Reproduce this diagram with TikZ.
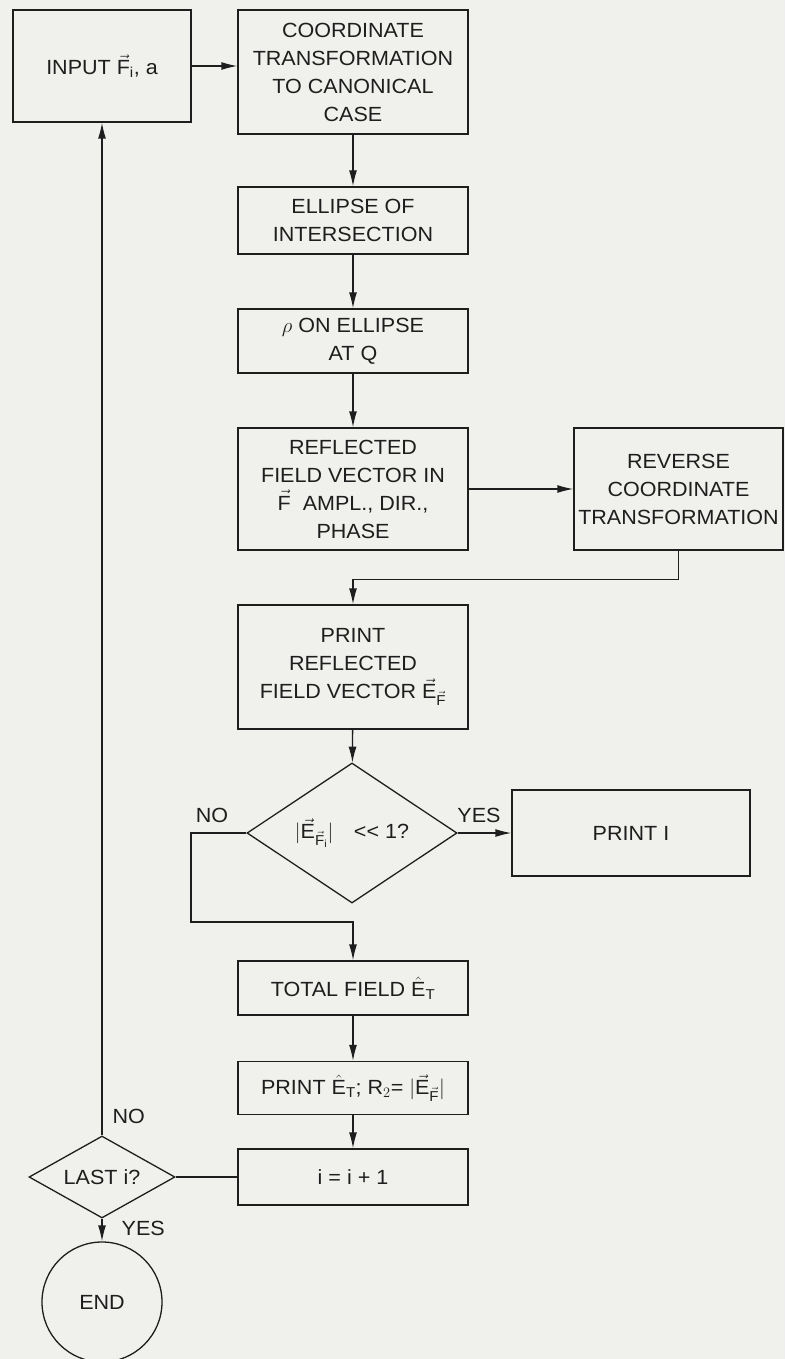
\documentclass[tikz,border=0pt]{standalone}
\usepackage{amsmath}
\usepackage{fontspec}
\setmainfont[FakeStretch=1.05]{Liberation Sans}
\usepackage{tikz}
\usetikzlibrary{shapes.geometric,arrows.meta}
\definecolor{paper}{RGB}{240,240,237}
\definecolor{ink}{RGB}{30,30,30}
\newcommand{\vv}[1]{\vec{\text{#1}}}
\newcommand{\hv}[1]{\hat{\text{#1}}}

\begin{document}
\begin{tikzpicture}[x=1pt, y=-1pt, line width=1.3pt, color=ink,
        box/.style={draw, rectangle, minimum width=230pt, align=center, inner sep=1pt, font=\fontsize{20.5}{28}\selectfont},
        decision/.style={draw, diamond, inner sep=0pt, font=\fontsize{20.5}{28}\selectfont},
        term/.style={draw, circle, minimum size=120pt, font=\fontsize{20.5}{28}\selectfont},
        lbl/.style={inner sep=0pt, font=\fontsize{20.5}{24}\selectfont},
        arr/.style={-{Latex[length=16pt,width=8pt]}}]
        % Page
        \fill[paper] (0,0) rectangle (785,1359);
        \useasboundingbox (0,0) rectangle (785,1359);
        % Boxes
        \node[box, minimum width=178pt, minimum height=112pt] (input) at (102,66) {INPUT $\vv{F}_{\text{i}}$, a};
        \node[box, minimum height=124pt] (coord) at (353,72) {COORDINATE\\TRANSFORMATION\\TO CANONICAL\\CASE};
        \node[box, minimum height=67pt] (ellipse) at (353,220.5) {ELLIPSE OF\\INTERSECTION};
        \node[box, minimum height=64pt] (rho) at (353,341) {$\rho$ ON ELLIPSE\\AT Q};
        \node[box, minimum height=122pt] (reflect) at (353,489) {REFLECTED\\FIELD VECTOR IN\\$\vv{F}$\ \ AMPL., DIR.,\\PHASE};
        \node[box, minimum width=209pt, minimum height=122pt] (reverse) at (678.5,489) {REVERSE\\COORDINATE\\TRANSFORMATION};
        \node[box, minimum height=124pt] (printref) at (353,667) {PRINT\\REFLECTED\\FIELD VECTOR $\vv{E}_{\vv{F}}$};
        \node[decision, minimum width=210pt, minimum height=140pt, aspect=1.5] (check) at (352,833) {$|\vv{E}_{\vv{F}_{\text{i}}}|$\quad {<}{<} 1?};
        \node[box, minimum width=238pt, minimum height=86pt] (printone) at (631,833) {PRINT I};
        \node[box, minimum height=54pt] (total) at (353,988) {TOTAL FIELD $\hv{E}_{\text{T}}$};
        \node[box, minimum height=53pt] (printtot) at (353,1088) {PRINT $\hv{E}_{\text{T}}$; R$_2$= $|\vv{E}_{\vv{F}}|$};
        \node[box, minimum height=56pt] (incr) at (353,1177) {i = i + 1};
        \node[decision, minimum width=146pt, minimum height=82pt, aspect=1.78] (last) at (102,1177) {LAST i?};
        \node[term] (end) at (102,1302) {END};
        % Labels
        \node[lbl] (no1) at (212,815) {NO};
        \node[lbl] (yes1) at (479,815) {YES};
        \node[lbl, anchor=west] (no2) at (112,1116) {NO};
        \node[lbl, anchor=west] (yes2) at (121,1228) {YES};
        % Connections
        \draw[arr] (input.east) -- (input.east -| coord.west);
        \draw[arr] (coord) -- (ellipse);
        \draw[arr] (ellipse) -- (rho);
        \draw[arr] (rho) -- (reflect);
        \draw[arr] (reflect) -- (reverse);
        \draw[arr] (reverse.south) -- ++(0,29) -| (printref.north);
        \draw[arr] (printref) -- (check);
        \draw[arr] (check) -- (printone);
        \coordinate (nobend) at (191,922);
        \draw[arr] (check.west) -| (nobend) -- (nobend -| total.north) -- (total.north);
        \draw[arr] (total) -- (printtot);
        \draw[arr] (printtot) -- (incr);
        \draw (incr) -- (last);
        \draw[arr] (last) -- (input);
        \draw[arr] (last) -- (end);
    \end{tikzpicture}
\end{document}
